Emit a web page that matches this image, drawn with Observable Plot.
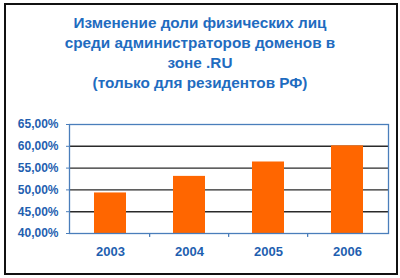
<!DOCTYPE html>
<html><head><meta charset="utf-8">
<script src="https://cdn.jsdelivr.net/npm/d3@7"></script>
<script src="https://cdn.jsdelivr.net/npm/@observablehq/plot@0.6"></script>
<style>
body{margin:0;background:#fff;}
#wrap{position:relative;width:400px;height:278px;overflow:hidden;font-family:"Liberation Sans",Arial,sans-serif;}
#border{position:absolute;left:4px;top:3px;width:390px;height:268px;border:2px solid #111;box-sizing:content-box;pointer-events:none;}
#title{position:absolute;left:0;top:13px;width:400px;text-align:center;color:#1f6cc0;font-weight:bold;font-size:15.3px;line-height:20px;}
#chart{position:absolute;left:0;top:110px;}
</style></head>
<body><div id="wrap"><div id="title">Изменение доли физических лиц<br>среди администраторов доменов в<br>зоне .RU<br>(только для резидентов РФ)</div><div id="chart"></div><div id="border"></div></div>
<script>
const years = ["2003","2004","2005","2006"];
const shares = [49.3, 53.1, 56.4, 60.1];
const yTicks = [40,45,50,55,60,65];
const gridLines = [45,50,55,60];

const data = years.map((y,i)=>({year:y, share:shares[i]}));
const W=400, H=160, mL=69, mR=12, mT=14, mB=37;
const band=(W-mL-mR)/years.length;
const blue="#4a7ebb", textBlue="#1f5fb0";
const fmt = d => d.toFixed(2).replace(".", ",") + "%";

const plot = Plot.plot({
  width:W, height:H, marginLeft:mL, marginRight:mR, marginTop:mT, marginBottom:mB,
  style:{fontFamily:"'Liberation Sans', Arial, sans-serif", background:"transparent"},
  x:{domain:years, paddingInner:0.6, paddingOuter:0.3, align:0.5},
  y:{domain:[40,65]},
  marks:[
    Plot.ruleY(gridLines,{stroke:"#2a2a2a", strokeWidth:1.4}),
    Plot.barY(data,{x:"year", y1:40, y2:"share", fill:"#ff6600"}),
    Plot.frame({stroke:blue, strokeWidth:1.3}),
    Plot.ruleX(years.slice(1),{x:d=>d, dx:-band/2, y1:40, y2:39.1, stroke:blue, strokeWidth:1.3}),
    Plot.axisY({ticks:yTicks, tickFormat:fmt, tickSize:3, tickPadding:8, stroke:blue, fill:textBlue, fontSize:12, fontWeight:"bold", label:null}),
    Plot.axisX({tickSize:0, tickPadding:13, fill:textBlue, fontSize:13, fontWeight:"bold", label:null})
  ]
});
document.getElementById("chart").appendChild(plot);
</script></body></html>
